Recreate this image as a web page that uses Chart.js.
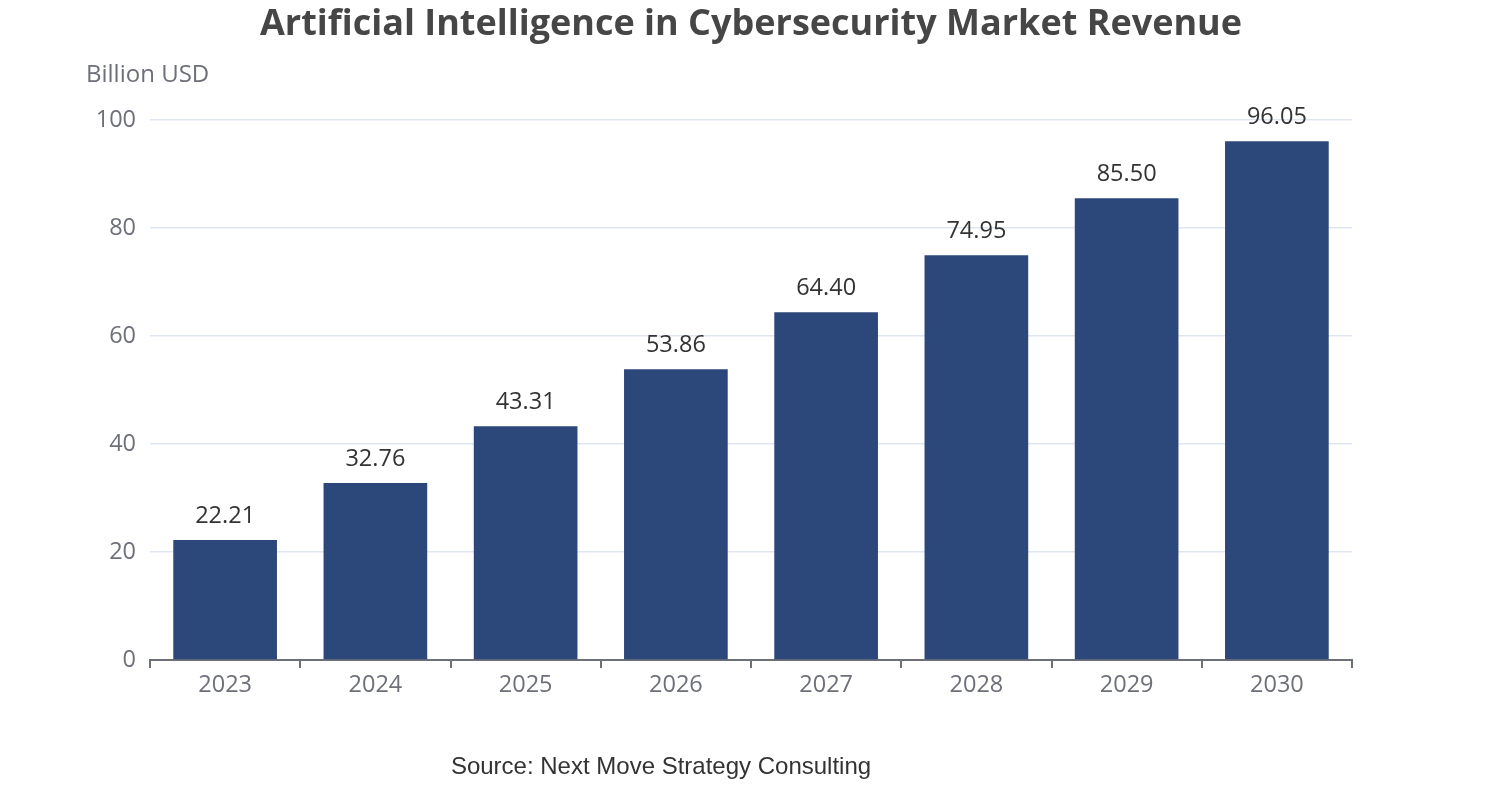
<!DOCTYPE html>
<html>
<head>
<meta charset="utf-8">
<script src="https://cdn.jsdelivr.net/npm/chart.js@4.4.1/dist/chart.umd.min.js"></script>
<style>
  html, body { margin: 0; padding: 0; background: #fff; }
  #wrap { width: 1502px; height: 800px; position: relative; }
</style>
</head>
<body>
<div id="wrap"><canvas id="myChart" width="1502" height="800"></canvas></div>
<script>
// donnees du graphique
const years = ['2023', '2024', '2025', '2026', '2027', '2028', '2029', '2030']
const revenue = [22.21, 32.76, 43.31, 53.86, 64.40, 74.95, 85.50, 96.05]
const yTicks = [0, 20, 40, 60, 80, 100]

const titleText = 'Artificial Intelligence in Cybersecurity Market Revenue'
const unitText = 'Billion USD'
const sourceText = 'Source: Next Move Strategy Consulting'

const barColor = '#2c4779'
const axisGrey = '#6e7079'
const fontMain = '"Open Sans", "Noto Sans", sans-serif'

//*********** textes autour du graphique (titre, unite, source) ***********//
const textPlugin = {
    id: 'texts',
    afterDraw(chart) {
        const c = chart.ctx
        c.save()
        c.textAlign = 'center'
        c.textBaseline = 'middle'
        c.fillStyle = '#464646'
        c.font = 'bold 36px ' + fontMain
        c.fillText(titleText, 751, 25)

        c.textAlign = 'left'
        c.fillStyle = axisGrey
        c.font = '24px ' + fontMain
        c.fillText(unitText, 86, 75)

        c.textAlign = 'center'
        c.fillStyle = '#333'
        c.font = '24px "Liberation Sans", Arial, sans-serif'
        c.fillText(sourceText, 661, 767)
        c.restore()
    }
}

//*********** valeurs au dessus des barres ***********//
const labelPlugin = {
    id: 'barLabels',
    afterDatasetsDraw(chart) {
        const c = chart.ctx
        const meta = chart.getDatasetMeta(0)
        c.save()
        c.textAlign = 'center'
        c.textBaseline = 'middle'
        c.fillStyle = '#333'
        c.font = '23.5px ' + fontMain
        meta.data.forEach((bar, i) => {
            c.fillText(revenue[i].toFixed(2), bar.x, bar.y - 24)
        })
        c.restore()
    }
}

let ctx = document.getElementById('myChart')
let myChart = new Chart(ctx, {
    type: 'bar',
    data: {
        labels: years,
        datasets: [{
            data: revenue,
            backgroundColor: barColor,
            borderWidth: 0,
            barPercentage: 0.69,
            categoryPercentage: 1
        }]
    },
    options: {
        responsive: false,
        animation: false,
        devicePixelRatio: 1,
        layout: { padding: { top: 120, right: 150, left: 0, bottom: 0 } },
        plugins: {
            legend: { display: false },
            tooltip: { enabled: false }
        },
        scales: {
            x: {
                offset: true,
                afterFit: (s) => { s.height = 140 },
                border: { display: true, color: axisGrey, width: 2 },
                grid: {
                    offset: true,
                    drawOnChartArea: false,
                    drawTicks: true,
                    tickLength: 8,
                    color: axisGrey,
                    lineWidth: 2
                },
                ticks: {
                    color: axisGrey,
                    font: { size: 23.5, family: fontMain },
                    padding: 3
                }
            },
            y: {
                min: 0,
                max: 100,
                afterFit: (s) => { s.width = 150 },
                afterBuildTicks: (s) => { s.ticks = yTicks.map(v => ({ value: v })) },
                border: { display: false },
                grid: {
                    color: '#e0e6f1',
                    lineWidth: 1.5,
                    drawTicks: false
                },
                ticks: {
                    color: axisGrey,
                    font: { size: 23.5, family: fontMain },
                    padding: 14
                }
            }
        }
    },
    plugins: [textPlugin, labelPlugin]
})
</script>
</body>
</html>
